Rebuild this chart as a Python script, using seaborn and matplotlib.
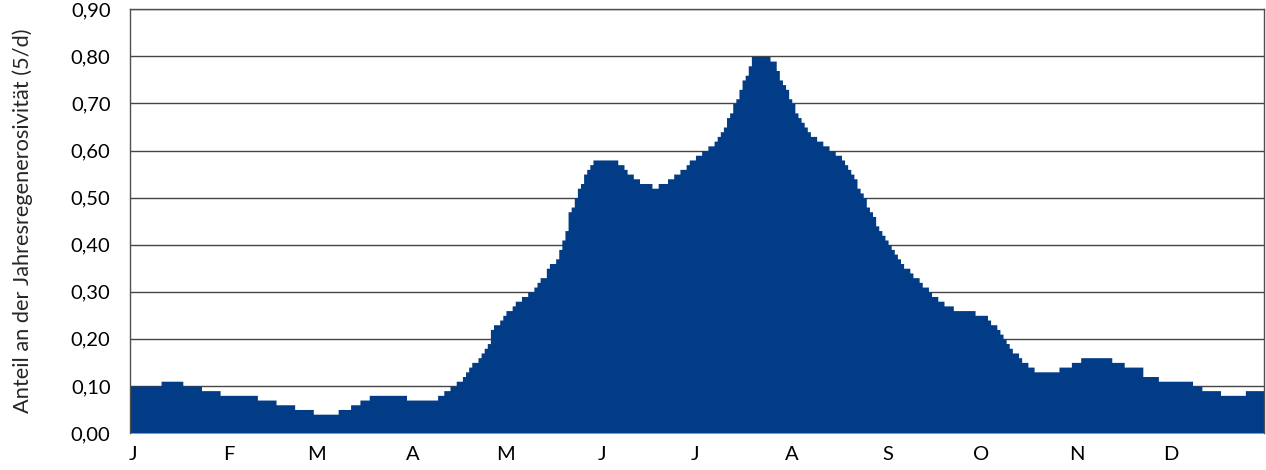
import numpy as np
import pandas as pd
import matplotlib
matplotlib.use("Agg")
import matplotlib.pyplot as plt
import seaborn as sns

# Daily share of annual rainfall erosivity, one value per day of the year
jan = [0.10, 0.10, 0.10, 0.10, 0.10, 0.10, 0.10, 0.10, 0.10, 0.10,
       0.11, 0.11, 0.11, 0.11, 0.11, 0.11, 0.11,
       0.10, 0.10, 0.10, 0.10, 0.10, 0.10,
       0.09, 0.09, 0.09, 0.09, 0.09, 0.09,
       0.08, 0.08]
feb = [0.08, 0.08, 0.08, 0.08, 0.08, 0.08, 0.08, 0.08, 0.08, 0.08,
       0.07, 0.07, 0.07, 0.07, 0.07, 0.07,
       0.06, 0.06, 0.06, 0.06, 0.06, 0.06,
       0.05, 0.05, 0.05, 0.05, 0.05, 0.05]
mar = [0.04, 0.04, 0.04, 0.04, 0.04, 0.04, 0.04, 0.04,
       0.05, 0.05, 0.05, 0.05,
       0.06, 0.06, 0.06,
       0.07, 0.07, 0.07,
       0.08, 0.08, 0.08, 0.08, 0.08, 0.08, 0.08, 0.08, 0.08, 0.08, 0.08, 0.08,
       0.07]
apr = [0.07, 0.07, 0.07, 0.07, 0.07, 0.07, 0.07, 0.07, 0.07,
       0.08, 0.08, 0.09, 0.09, 0.10, 0.10, 0.11, 0.11,
       0.12, 0.13, 0.14, 0.15, 0.15, 0.16, 0.17, 0.18, 0.19,
       0.22, 0.23, 0.23, 0.24]
may = [0.25, 0.26, 0.26, 0.27, 0.28, 0.28, 0.29, 0.29, 0.30, 0.30,
       0.31, 0.32, 0.33, 0.33, 0.35, 0.36, 0.36, 0.37, 0.39, 0.41,
       0.43, 0.47, 0.48, 0.50, 0.52, 0.53, 0.55, 0.56, 0.57, 0.58, 0.58]
jun = [0.58, 0.58, 0.58, 0.58, 0.58, 0.58, 0.57, 0.57, 0.56, 0.55,
       0.55, 0.54, 0.54, 0.53, 0.53, 0.53, 0.53, 0.52, 0.52, 0.53,
       0.53, 0.53, 0.54, 0.54, 0.55, 0.55, 0.56, 0.56, 0.57, 0.58]
jul = [0.58, 0.59, 0.59, 0.60, 0.60, 0.61, 0.61, 0.62, 0.63, 0.64,
       0.65, 0.67, 0.68, 0.70, 0.71, 0.73, 0.75, 0.76, 0.78, 0.80,
       0.80, 0.80, 0.80, 0.80, 0.80, 0.79, 0.79, 0.77, 0.75, 0.74, 0.73]
aug = [0.71, 0.70, 0.68, 0.67, 0.66, 0.65, 0.64, 0.63, 0.63, 0.62,
       0.62, 0.61, 0.61, 0.60, 0.60, 0.59, 0.59, 0.58, 0.57, 0.56,
       0.55, 0.54, 0.52, 0.51, 0.50, 0.48, 0.47, 0.46, 0.44, 0.43, 0.42]
sep = [0.41, 0.40, 0.39, 0.38, 0.37, 0.36, 0.35, 0.35, 0.34, 0.33,
       0.33, 0.32, 0.31, 0.31, 0.30, 0.29, 0.29, 0.28, 0.28, 0.27,
       0.27, 0.27, 0.26, 0.26, 0.26, 0.26, 0.26, 0.26, 0.26, 0.25]
oct_ = [0.25, 0.25, 0.25, 0.24, 0.23, 0.23, 0.22, 0.21, 0.20, 0.19,
        0.18, 0.17, 0.17, 0.16, 0.15, 0.15, 0.14, 0.14,
        0.13, 0.13, 0.13, 0.13, 0.13, 0.13, 0.13, 0.13,
        0.14, 0.14, 0.14, 0.14, 0.15]
nov = [0.15, 0.15,
       0.16, 0.16, 0.16, 0.16, 0.16, 0.16, 0.16, 0.16, 0.16, 0.16,
       0.15, 0.15, 0.15, 0.15,
       0.14, 0.14, 0.14, 0.14, 0.14, 0.14,
       0.12, 0.12, 0.12, 0.12, 0.12,
       0.11, 0.11, 0.11]
dec = [0.11, 0.11, 0.11, 0.11, 0.11, 0.11, 0.11, 0.11,
       0.10, 0.10, 0.10,
       0.09, 0.09, 0.09, 0.09, 0.09, 0.09,
       0.08, 0.08, 0.08, 0.08, 0.08, 0.08, 0.08, 0.08,
       0.09, 0.09, 0.09, 0.09, 0.09, 0.09]

month_values = [jan, feb, mar, apr, may, jun, jul, aug, sep, oct_, nov, dec]
month_labels = ["J", "F", "M", "A", "M", "J", "J", "A", "S", "O", "N", "D"]
y_ticks = [0.0, 0.1, 0.2, 0.3, 0.4, 0.5, 0.6, 0.7, 0.8, 0.9]
y_label = "Anteil an der Jahresregenerosivität (5/d)"

share = np.concatenate([np.asarray(m, dtype=float) for m in month_values])
n_days = len(share)
df = pd.DataFrame({"day": np.arange(n_days) + 0.5, "share": share})
month_starts = np.cumsum([0] + [len(m) for m in month_values[:-1]])

sns.set_theme(style="white")
plt.rcParams["font.family"] = ["Lato", "DejaVu Sans"]

fig = plt.figure(figsize=(12.66, 4.70), dpi=100)
ax = fig.add_axes([130 / 1266, 1 - 433 / 470, 1134 / 1266, (433 - 9.3) / 470])

# one bin per day, weighted by the daily share -> stepped area
sns.histplot(data=df, x="day", weights="share", bins=n_days, binrange=(0, n_days),
             element="step", fill=True, color="#023C86", alpha=1.0,
             linewidth=0, ax=ax, zorder=2)

ax.set_xlim(0, n_days)
ax.set_ylim(0, 0.9)
ax.set_yticks(y_ticks)
ax.set_yticklabels([f"{v:.2f}".replace(".", ",") for v in y_ticks], fontsize=14.5)
ax.set_xticks(month_starts + 0.9)
ax.set_xticklabels(month_labels, fontsize=14.5)
ax.tick_params(axis="both", length=0, colors="#000000")
ax.tick_params(axis="y", pad=14)
ax.tick_params(axis="x", pad=9)

ax.set_axisbelow(True)
ax.yaxis.grid(True, color="#454545", linewidth=1.0)
ax.xaxis.grid(False)

for side in ("left", "top", "right"):
    ax.spines[side].set_visible(True)
    ax.spines[side].set_color("#505050")
    ax.spines[side].set_linewidth(1.0)
ax.spines["bottom"].set_visible(False)

ax.set_xlabel("")
ax.set_ylabel(y_label, fontsize=15.7, labelpad=27)

fig.savefig("out.png", dpi=100, facecolor="white")
